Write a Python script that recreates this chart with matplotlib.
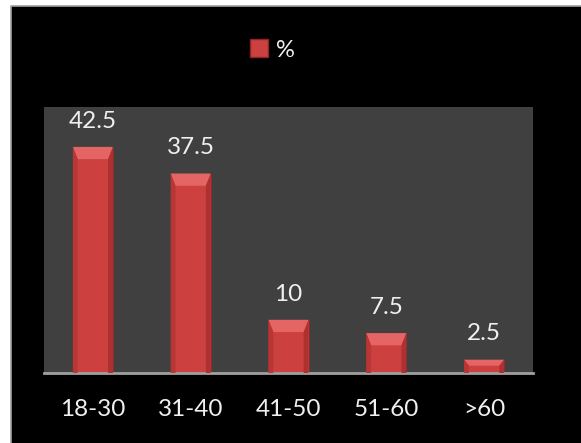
import matplotlib.pyplot as plt
from matplotlib.patches import Rectangle, Polygon, Patch
from matplotlib.lines import Line2D

groups = ['18-30', '31-40', '41-50', '51-60', '>60']
pct = [42.5, 37.5, 10, 7.5, 2.5]
value_labels = ['42.5', '37.5', '10', '7.5', '2.5']

plt.rcParams['font.family'] = ['Lato', 'DejaVu Sans']

fig = plt.figure(figsize=(5.81, 4.43), dpi=100, facecolor='white')
# black chart area, thin gray border only on top and left like the screenshot
x0, y1 = 11 / 581, 437 / 443
fig.patches.append(Rectangle((x0, 0), 1 - x0, y1, transform=fig.transFigure,
                             facecolor='black', edgecolor='none', zorder=-10))
fig.lines.append(Line2D([x0, x0, 1], [0, y1, y1], transform=fig.transFigure,
                        color='#a0a0a0', linewidth=1.2, zorder=-9))

ax = fig.add_axes([44 / 581, 70 / 443, 489 / 581, 266 / 443])
ax.set_facecolor('#404040')

w = 0.41
xs = range(len(groups))
bars = ax.bar(xs, pct, width=w, color='#cc4040', edgecolor='#8a2626', linewidth=0.5, zorder=2)

# bevel look: lighter top face, slightly darker sides
bev_x = 0.05
bev_y = 2.3
for x, h in zip(xs, pct):
    l, r = x - w / 2, x + w / 2
    d = min(bev_y, h * 0.45)
    ax.add_patch(Polygon([(l, h), (r, h), (r - bev_x, h - d), (l + bev_x, h - d)],
                         closed=True, facecolor='#e56565', edgecolor='none', zorder=3))
    ax.add_patch(Polygon([(l, 0), (l, h), (l + bev_x, h - d), (l + bev_x, 0)],
                         closed=True, facecolor='#b83636', edgecolor='none', zorder=3))
    ax.add_patch(Polygon([(r, 0), (r, h), (r - bev_x, h - d), (r - bev_x, 0)],
                         closed=True, facecolor='#ad3131', edgecolor='none', zorder=3))

for x, h, t in zip(xs, pct, value_labels):
    ax.annotate(t, (x, h), xytext=(0, 11), textcoords='offset points',
                ha='center', va='bottom', color='#f0f0f0', fontsize=17.5)

ax.set_xlim(-0.5, len(groups) - 0.5)
ax.set_ylim(0, 50)
ax.set_xticks(list(xs))
ax.set_xticklabels(groups, color='#f0f0f0', fontsize=17.5)
ax.tick_params(axis='x', length=0, pad=19)
ax.set_yticks([])
for s in ['top', 'right', 'left']:
    ax.spines[s].set_visible(False)
ax.spines['bottom'].set_color('#a0a0a0')
ax.spines['bottom'].set_linewidth(2)

leg = fig.legend(handles=[Patch(facecolor='#cc4040', edgecolor='#8a2626', label='%')],
                 loc='center', bbox_to_anchor=(272 / 581, 1 - 50 / 443), frameon=False,
                 fontsize=17, handlelength=0.8, handleheight=0.8, handletextpad=0.3)
for t in leg.get_texts():
    t.set_color('#f0f0f0')

fig.savefig('out.png', dpi=100, facecolor='white')
